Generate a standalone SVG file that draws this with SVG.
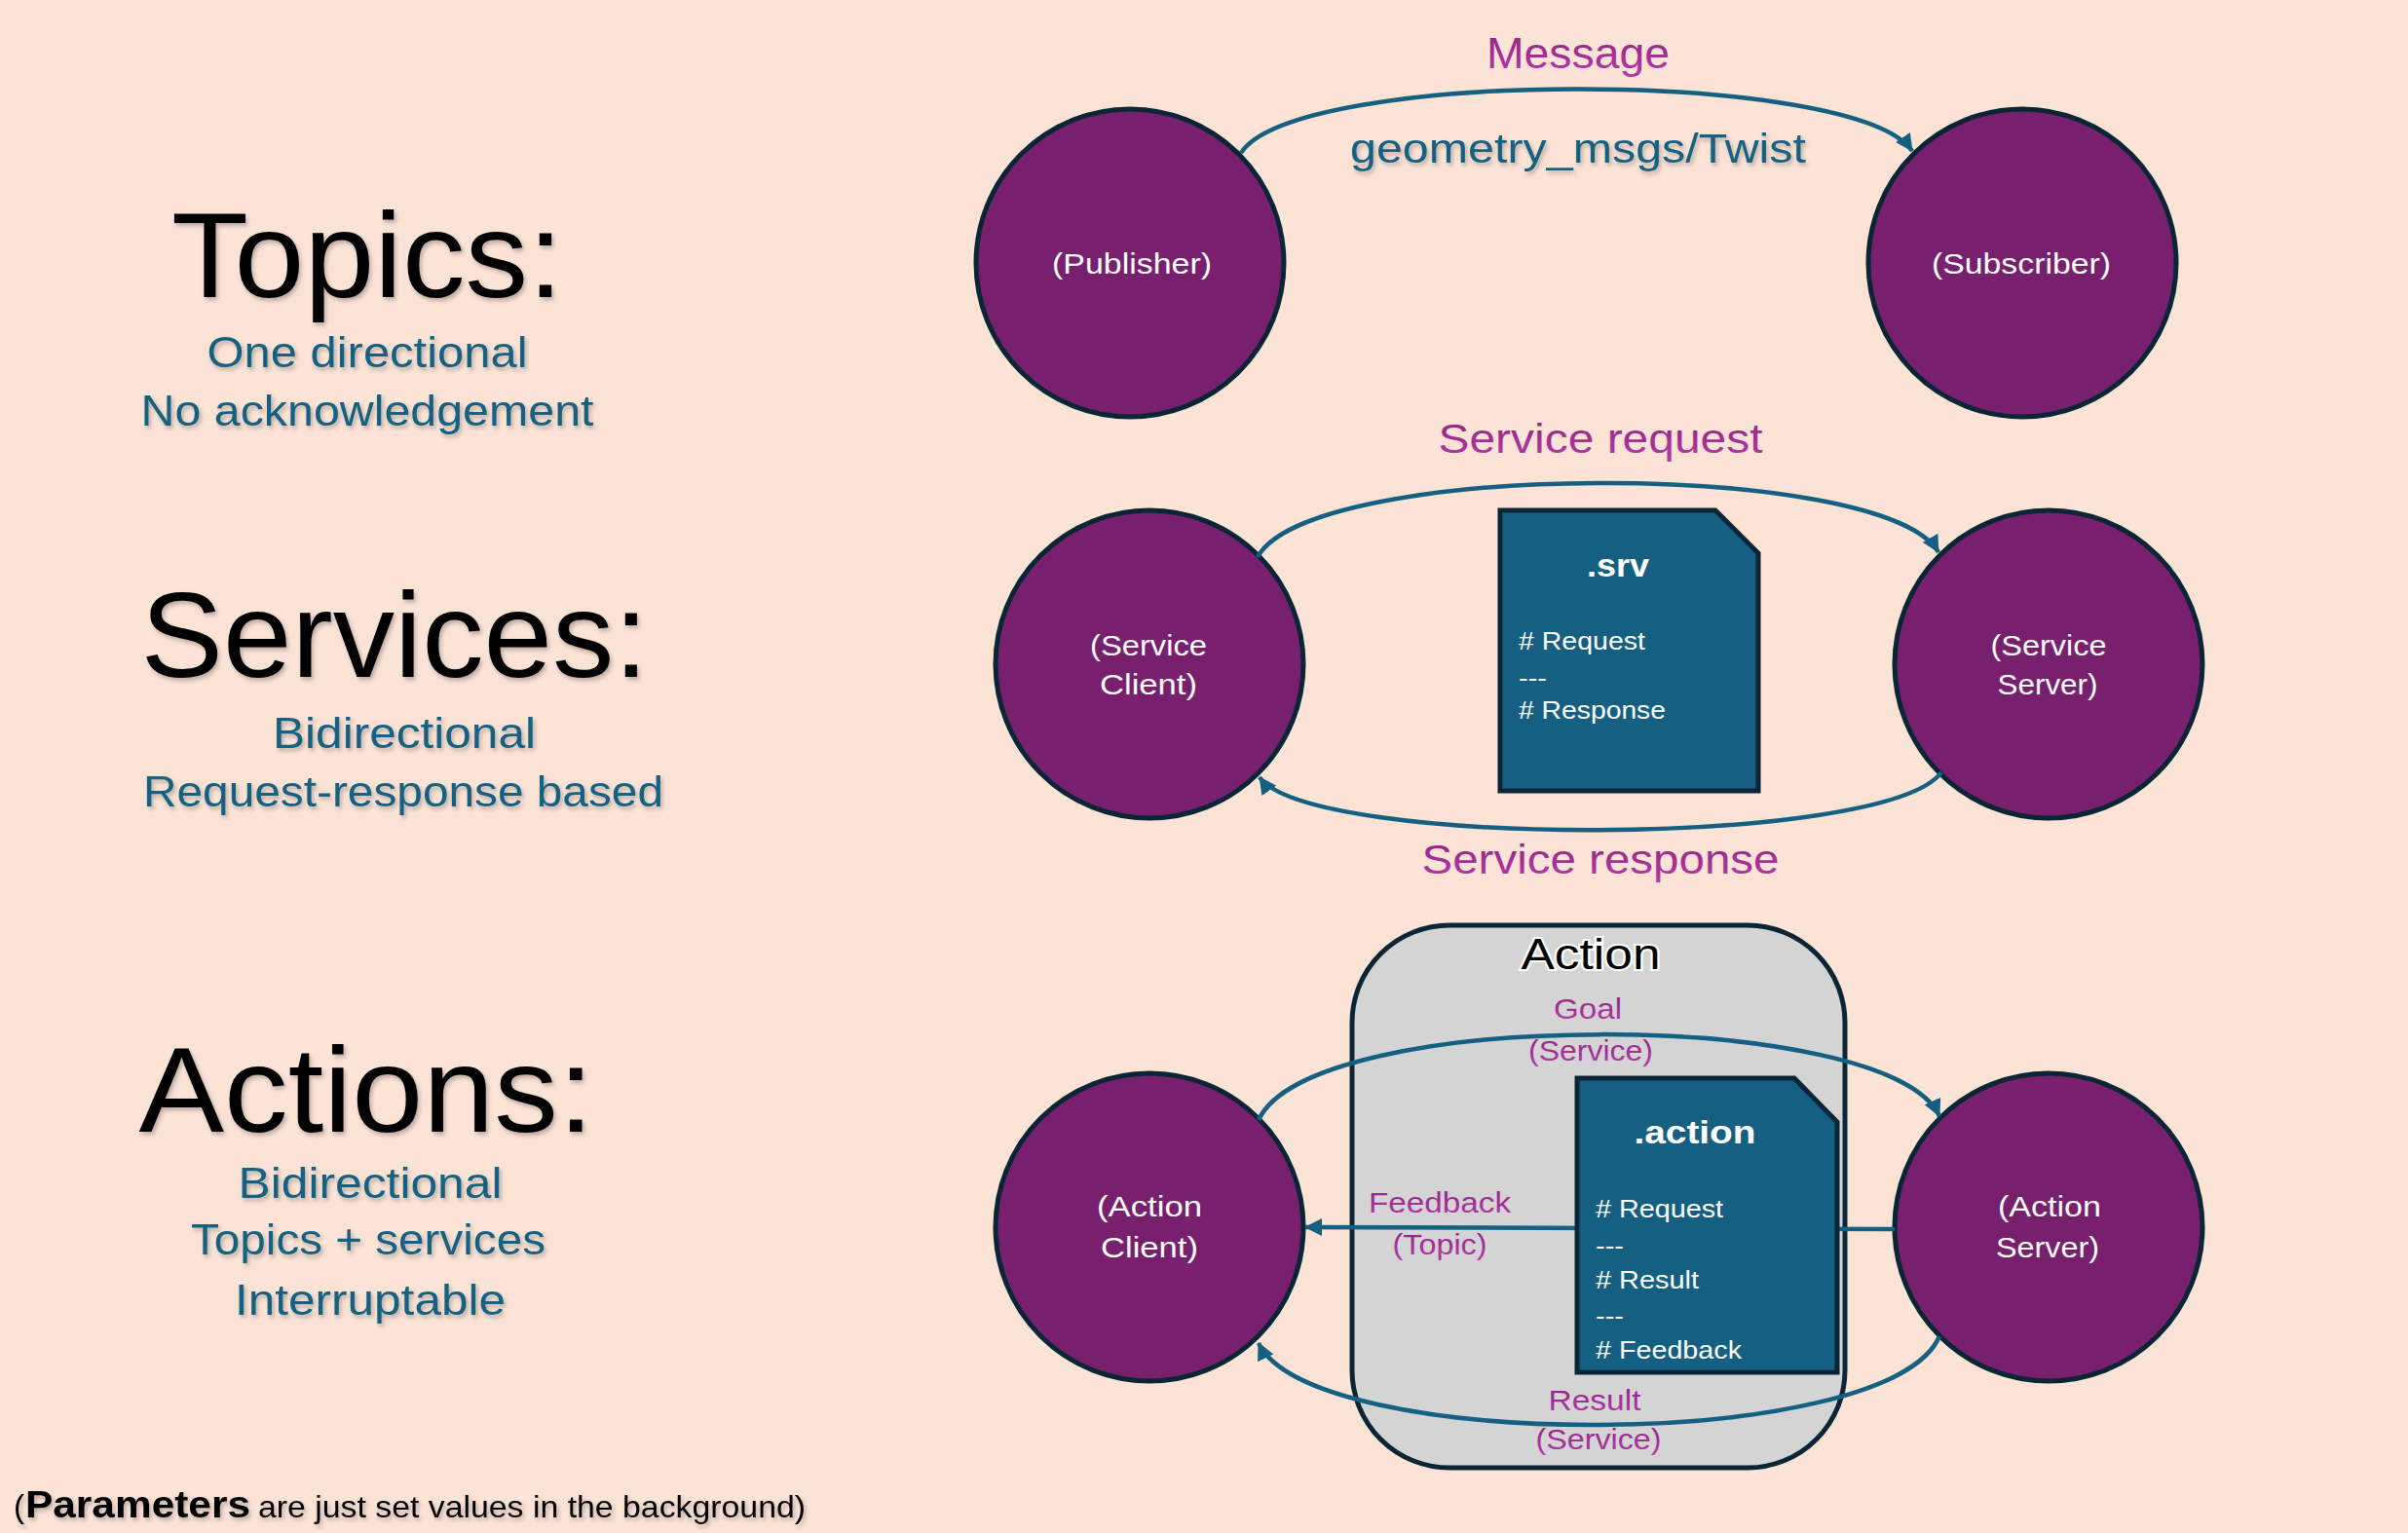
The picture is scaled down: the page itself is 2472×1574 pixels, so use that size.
<svg xmlns="http://www.w3.org/2000/svg" width="2472" height="1574" viewBox="0 0 2472 1574">
<style>
.bg{fill:#FBE3D6}
.head{font-family:"Liberation Sans",Arial,sans-serif;font-size:124px;fill:#000;text-anchor:middle;filter:url(#shadow)}
.sub{font-family:"Liberation Sans",Arial,sans-serif;font-size:44px;fill:#156082;text-anchor:middle;filter:url(#shadow)}
.node{fill:#78206E;stroke:#0A2536;stroke-width:5}
.ntext{font-family:"Liberation Sans",Arial,sans-serif;font-size:30px;fill:#fff;text-anchor:middle}
.doc{fill:#156082;stroke:#0A2536;stroke-width:5}
.dtitle{font-family:"Liberation Sans",Arial,sans-serif;font-size:34px;font-weight:bold;fill:#fff;text-anchor:middle}
.dtext{font-family:"Liberation Sans",Arial,sans-serif;font-size:26px;fill:#fff}
.lbl{font-family:"Liberation Sans",Arial,sans-serif;fill:url(#mag);text-anchor:middle}
.conn{fill:none;stroke:#156082;stroke-width:4.5}
.blue{font-family:"Liberation Sans",Arial,sans-serif;fill:#156082;text-anchor:middle;filter:url(#shadow)}
</style>
<defs>
<marker id="arr" markerUnits="userSpaceOnUse" markerWidth="20" markerHeight="20" refX="17" refY="9" orient="auto">
<path d="M0,0 L18,9 L0,18 Z" fill="#156082"/>
</marker>
<linearGradient id="mag" x1="0" y1="0" x2="0" y2="1">
<stop offset="0" stop-color="#8E2282"/>
<stop offset="1" stop-color="#B53AA8"/>
</linearGradient>
<filter id="shadow" x="-10%" y="-10%" width="120%" height="130%">
<feDropShadow dx="2" dy="3" stdDeviation="2" flood-color="#000" flood-opacity="0.25"/>
</filter>
</defs>
<rect class="bg" x="0" y="0" width="2472" height="1574"/>

<g id="left-text">
<text class="head" x="377" y="305" textLength="402" lengthAdjust="spacingAndGlyphs">Topics:</text>
<text class="sub" x="377" y="377" textLength="329" lengthAdjust="spacingAndGlyphs">One directional</text>
<text class="sub" x="377" y="437" textLength="465" lengthAdjust="spacingAndGlyphs">No acknowledgement</text>
<text class="head" x="405" y="695" textLength="521" lengthAdjust="spacingAndGlyphs">Services:</text>
<text class="sub" x="415" y="768" textLength="270" lengthAdjust="spacingAndGlyphs">Bidirectional</text>
<text class="sub" x="414" y="828" textLength="534" lengthAdjust="spacingAndGlyphs">Request-response based</text>
<text class="head" x="376" y="1162" textLength="467" lengthAdjust="spacingAndGlyphs">Actions:</text>
<text class="sub" x="380" y="1230" textLength="271" lengthAdjust="spacingAndGlyphs">Bidirectional</text>
<text class="sub" x="378" y="1288" textLength="364" lengthAdjust="spacingAndGlyphs">Topics + services</text>
<text class="sub" x="380" y="1350" textLength="278" lengthAdjust="spacingAndGlyphs">Interruptable</text>
</g>

<g id="footnote" font-family="Liberation Sans, Arial, sans-serif" fill="#000" filter="url(#shadow)">
<text x="14" y="1558" font-size="34" textLength="11" lengthAdjust="spacingAndGlyphs">(</text>
<text x="26" y="1558" font-size="38" font-weight="bold" textLength="231" lengthAdjust="spacingAndGlyphs">Parameters</text>
<text x="265" y="1558" font-size="32" textLength="562" lengthAdjust="spacingAndGlyphs">are just set values in the background)</text>
</g>

<g id="action-container">
<rect x="1388" y="950" width="506" height="557" rx="100" ry="100" fill="#D4D4D4" stroke="#0A2536" stroke-width="5"/>
<text x="1633" y="995" font-family="Liberation Sans, Arial, sans-serif" font-size="44" fill="#000" stroke="#fff" stroke-width="4" paint-order="stroke" text-anchor="middle" textLength="143" lengthAdjust="spacingAndGlyphs">Action</text>
</g>

<g id="publisher"><circle class="node" cx="1160" cy="270" r="158"/><text class="ntext" x="1162" y="281" textLength="164" lengthAdjust="spacingAndGlyphs">(Publisher)</text></g>
<g id="subscriber"><circle class="node" cx="2076" cy="270" r="158"/><text class="ntext" x="2075" y="281" textLength="184" lengthAdjust="spacingAndGlyphs">(Subscriber)</text></g>
<g id="service-client"><circle class="node" cx="1180" cy="682" r="158"/><text class="ntext" x="1179" y="673" textLength="120" lengthAdjust="spacingAndGlyphs">(Service</text><text class="ntext" x="1179" y="713" textLength="100" lengthAdjust="spacingAndGlyphs">Client)</text></g>
<g id="service-server"><circle class="node" cx="2103" cy="682" r="158"/><text class="ntext" x="2103" y="673" textLength="119" lengthAdjust="spacingAndGlyphs">(Service</text><text class="ntext" x="2102" y="713" textLength="103" lengthAdjust="spacingAndGlyphs">Server)</text></g>
<g id="action-client"><circle class="node" cx="1180" cy="1260" r="158"/><text class="ntext" x="1180" y="1249" textLength="108" lengthAdjust="spacingAndGlyphs">(Action</text><text class="ntext" x="1180" y="1291" textLength="100" lengthAdjust="spacingAndGlyphs">Client)</text></g>
<g id="action-server"><circle class="node" cx="2103" cy="1260" r="158"/><text class="ntext" x="2104" y="1249" textLength="106" lengthAdjust="spacingAndGlyphs">(Action</text><text class="ntext" x="2102" y="1291" textLength="106" lengthAdjust="spacingAndGlyphs">Server)</text></g>

<g id="connectors">
<path class="conn" d="M1274,157 C1330,70 1905,70 1963,155" marker-end="url(#arr)"/>
<path class="conn" d="M1291,572 C1345,472 1935,471 1990,567" marker-end="url(#arr)"/>
<path class="conn" d="M1993,793 C1935,871 1345,871 1293,798" marker-end="url(#arr)"/>
<path class="conn" d="M1292,1150 C1345,1033 1940,1034 1991,1146" marker-end="url(#arr)"/>
<path class="conn" d="M1991,1372 C1940,1492 1345,1492 1292,1379" marker-end="url(#arr)"/>
<path class="conn" d="M1945,1262 L1340,1260" marker-end="url(#arr)"/>
</g>

<g id="srv-doc">
<path class="doc" d="M1540,524 L1761,524 L1805,568 L1805,812 L1540,812 Z"/>
<text class="dtitle" x="1661" y="592" textLength="64" lengthAdjust="spacingAndGlyphs">.srv</text>
<text class="dtext" x="1559" y="667" textLength="130" lengthAdjust="spacingAndGlyphs"># Request</text>
<text class="dtext" x="1559" y="705" textLength="29" lengthAdjust="spacingAndGlyphs">---</text>
<text class="dtext" x="1559" y="738" textLength="151" lengthAdjust="spacingAndGlyphs"># Response</text>
</g>

<g id="action-doc">
<path class="doc" d="M1619,1107 L1842,1107 L1886,1152 L1886,1409 L1619,1409 Z"/>
<text class="dtitle" x="1740" y="1174" textLength="125" lengthAdjust="spacingAndGlyphs">.action</text>
<text class="dtext" x="1638" y="1250" textLength="131" lengthAdjust="spacingAndGlyphs"># Request</text>
<text class="dtext" x="1638" y="1288" textLength="29" lengthAdjust="spacingAndGlyphs">---</text>
<text class="dtext" x="1638" y="1323" textLength="106" lengthAdjust="spacingAndGlyphs"># Result</text>
<text class="dtext" x="1638" y="1360" textLength="29" lengthAdjust="spacingAndGlyphs">---</text>
<text class="dtext" x="1638" y="1395" textLength="150" lengthAdjust="spacingAndGlyphs"># Feedback</text>
</g>

<g id="labels">
<text class="lbl" x="1620" y="70" font-size="44" textLength="188" lengthAdjust="spacingAndGlyphs">Message</text>
<text class="blue" x="1620" y="167" font-size="42" textLength="468" lengthAdjust="spacingAndGlyphs">geometry_msgs/Twist</text>
<text class="lbl" x="1643" y="465" font-size="43" textLength="333" lengthAdjust="spacingAndGlyphs">Service request</text>
<text class="lbl" x="1643" y="897" font-size="43" textLength="367" lengthAdjust="spacingAndGlyphs">Service response</text>
<text class="lbl" x="1630" y="1046" font-size="30" textLength="70" lengthAdjust="spacingAndGlyphs">Goal</text>
<text class="lbl" x="1633" y="1089" font-size="30" textLength="128" lengthAdjust="spacingAndGlyphs">(Service)</text>
<text class="lbl" x="1478" y="1245" font-size="30" textLength="146" lengthAdjust="spacingAndGlyphs">Feedback</text>
<text class="lbl" x="1478" y="1288" font-size="30" textLength="97" lengthAdjust="spacingAndGlyphs">(Topic)</text>
<text class="lbl" x="1637" y="1448" font-size="30" textLength="95" lengthAdjust="spacingAndGlyphs">Result</text>
<text class="lbl" x="1641" y="1488" font-size="30" textLength="129" lengthAdjust="spacingAndGlyphs">(Service)</text>
</g>
</svg>
